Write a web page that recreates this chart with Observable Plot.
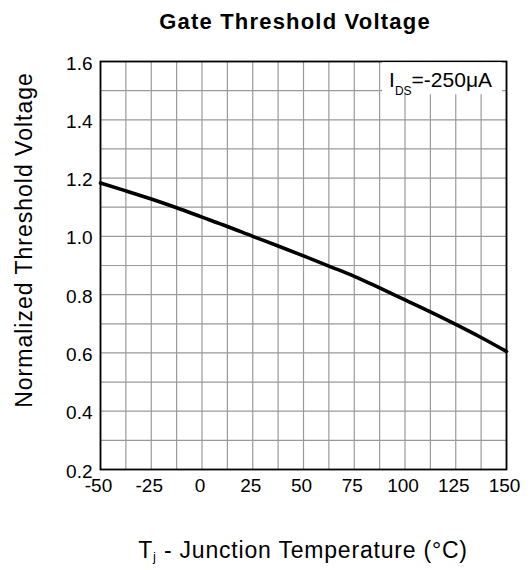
<!DOCTYPE html>
<html><head><meta charset="utf-8">
<script src="https://cdn.jsdelivr.net/npm/d3@7"></script>
<script src="https://cdn.jsdelivr.net/npm/@observablehq/plot@0.6"></script>
<style>body{margin:0;background:#fff;} svg{display:block;}</style>
</head><body><div id="chart"></div>
<script>
const temperature = [-50, -37.5, -25, -12.5, 0, 12.5, 25, 37.5, 50, 62.5, 75, 87.5, 100, 112.5, 125, 137.5, 150];
const threshold = [1.183, 1.156, 1.128, 1.098, 1.066, 1.034, 1.0, 0.967, 0.933, 0.898, 0.863, 0.823, 0.782, 0.741, 0.698, 0.653, 0.605];
const xTicks = [-50, -25, 0, 25, 50, 75, 100, 125, 150];
const yTicks = [0.2, 0.4, 0.6, 0.8, 1.0, 1.2, 1.4, 1.6];
const xGrid = [-50, -37.5, -25, -12.5, 0, 12.5, 25, 37.5, 50, 62.5, 75, 87.5, 100, 112.5, 125, 137.5, 150];
const yGrid = [0.2, 0.3, 0.4, 0.5, 0.6, 0.7, 0.8, 0.9, 1.0, 1.1, 1.2, 1.3, 1.4, 1.5, 1.6];
const titleText = "Gate Threshold Voltage";
const yLabel = "Normalized Threshold Voltage";
const xLabelMain = "T", xLabelSub = "j", xLabelRest = " - Junction Temperature (°C)";
const annMain = "I", annSub = "DS", annRest = "=-250μA";

const data = temperature.map((t, i) => ({t, v: threshold[i]}));
const font = "'Liberation Sans', Arial, Helvetica, sans-serif";

const chart = Plot.plot({
  width: 530, height: 570,
  marginLeft: 100, marginRight: 24, marginTop: 61, marginBottom: 101,
  style: {fontFamily: font, fontSize: "19px", background: "#fff", color: "#000"},
  x: {domain: [-50, 150], ticks: xTicks, tickSize: 0, tickPadding: 9, label: null, tickFormat: d => String(d)},
  y: {domain: [0.2, 1.6], ticks: yTicks, tickSize: 0, tickPadding: 8, label: null, tickFormat: d => d.toFixed(1)},
  marks: [
    Plot.ruleX(xGrid, {stroke: "#9a9a9a", strokeWidth: 1.2}),
    Plot.ruleY(yGrid, {stroke: "#9a9a9a", strokeWidth: 1.2}),
    Plot.line(data, {x: "t", y: "v", stroke: "#000", strokeWidth: 3.6, curve: "monotone-x"}),
    Plot.frame({stroke: "#000", strokeWidth: 1.8})
  ]
});
document.getElementById("chart").appendChild(chart);

{
  const svg = d3.select(chart);
  svg.selectAll('[aria-label="x-axis tick label"] text').attr("dx", -2);
  svg.selectAll('[aria-label="y-axis tick label"]').attr("transform", function() {
    const t = this.getAttribute("transform") || "";
    return t + " translate(0,2)";
  });
  const sx = chart.scale("x"), sy = chart.scale("y");
  const fL = sx.apply(-50), fR = sx.apply(150), fT = sy.apply(1.6), fB = sy.apply(0.2);
  const cx = (fL + fR) / 2;

  svg.append("text").attr("x", cx - 8).attr("y", fT - 32).attr("text-anchor", "middle")
    .attr("font-family", font).attr("font-weight", "bold").attr("font-size", 22)
    .style("letter-spacing", "1.2px").attr("fill", "#000").text(titleText);

  svg.append("text").attr("transform", `translate(${fL - 68},${(fT + fB) / 2 - 25}) rotate(-90)`)
    .attr("text-anchor", "middle").attr("font-family", font).attr("font-size", 23)
    .style("letter-spacing", "1px").attr("fill", "#000").text(yLabel);

  const xl = svg.append("text").attr("x", cx).attr("y", fB + 89).attr("text-anchor", "middle")
    .attr("font-family", font).attr("font-size", 23).style("letter-spacing", "0.8px").attr("fill", "#000");
  xl.append("tspan").text(xLabelMain);
  xl.append("tspan").attr("font-size", 13).attr("dy", 3).text(xLabelSub);
  xl.append("tspan").attr("dy", -3).text(xLabelRest);

  const g = svg.append("g");
  const rect = g.append("rect").attr("fill", "#fff");
  const ann = g.append("text").attr("x", fR - 14).attr("y", fT + 26).attr("text-anchor", "end")
    .attr("font-family", font).attr("font-size", 21).attr("fill", "#000");
  ann.append("tspan").text(annMain);
  ann.append("tspan").attr("font-size", 12).attr("dy", 8).text(annSub);
  ann.append("tspan").attr("dy", -8).text(annRest);
  const bb = ann.node().getBBox();
  rect.attr("x", bb.x - 7).attr("width", bb.width + 17).attr("y", fT + 1.2).attr("height", 32);
}
</script>
</body></html>
